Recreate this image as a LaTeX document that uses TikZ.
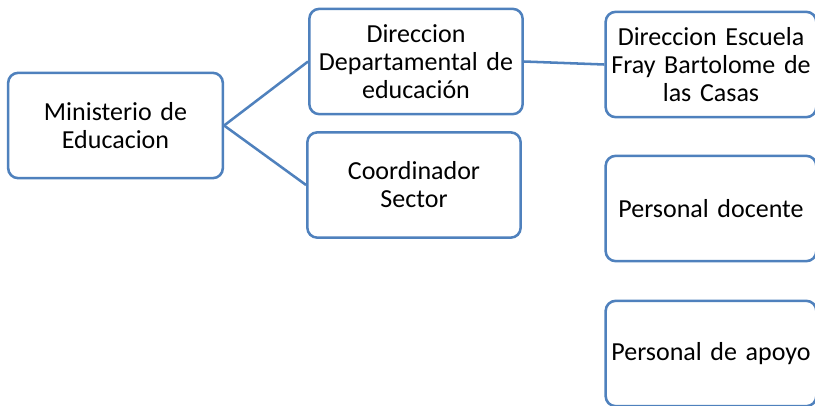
\documentclass[tikz,border=0pt]{standalone}
\usepackage{fontspec}
\setmainfont{Carlito}
\usepackage{tikz}
\usetikzlibrary{positioning}
\definecolor{orgblue}{RGB}{79,129,189}
\tikzstyle{unitbox} = [rectangle, rounded corners=7.5pt, draw=orgblue, fill=white, line width=1.9pt, minimum width=160pt, minimum height=79pt, text width=152pt, inner xsep=2pt, align=center, font=\fontsize{19.5}{21}\selectfont]
\tikzstyle{link} = [line width=1.9pt, color=orgblue]

\begin{document}
\begin{tikzpicture}[x=0.75pt, y=-0.75pt]
\useasboundingbox (0,0) rectangle (815,405);
\clip (0,0) rectangle (815,405);

% Left column
\node[unitbox, minimum width=161pt] (mined) at (115.5,125.5) {Ministerio de\\Educacion};

% Middle column
\node[unitbox] (dirdep) at (416,61.5) {Direccion\\Departamental de\\educación};
\node[unitbox] (coord) at (414,185) {Coordinador\\Sector};

% Right column
\node[unitbox, minimum width=158pt] (escuela) at (711,64.5) {Direccion Escuela\\Fray Bartolome de\\las Casas};
\node[unitbox, minimum width=158pt] (docente) at (711,208.5) {Personal docente};
\node[unitbox, minimum width=158pt] (apoyo) at (711,353.5) {Personal de apoyo};

% Connections
\draw[link] (mined.east) -- (dirdep.west);
\draw[link] (mined.east) -- (coord.west);
\draw[link] (dirdep.east) -- (escuela.west);
\end{tikzpicture}
\end{document}
